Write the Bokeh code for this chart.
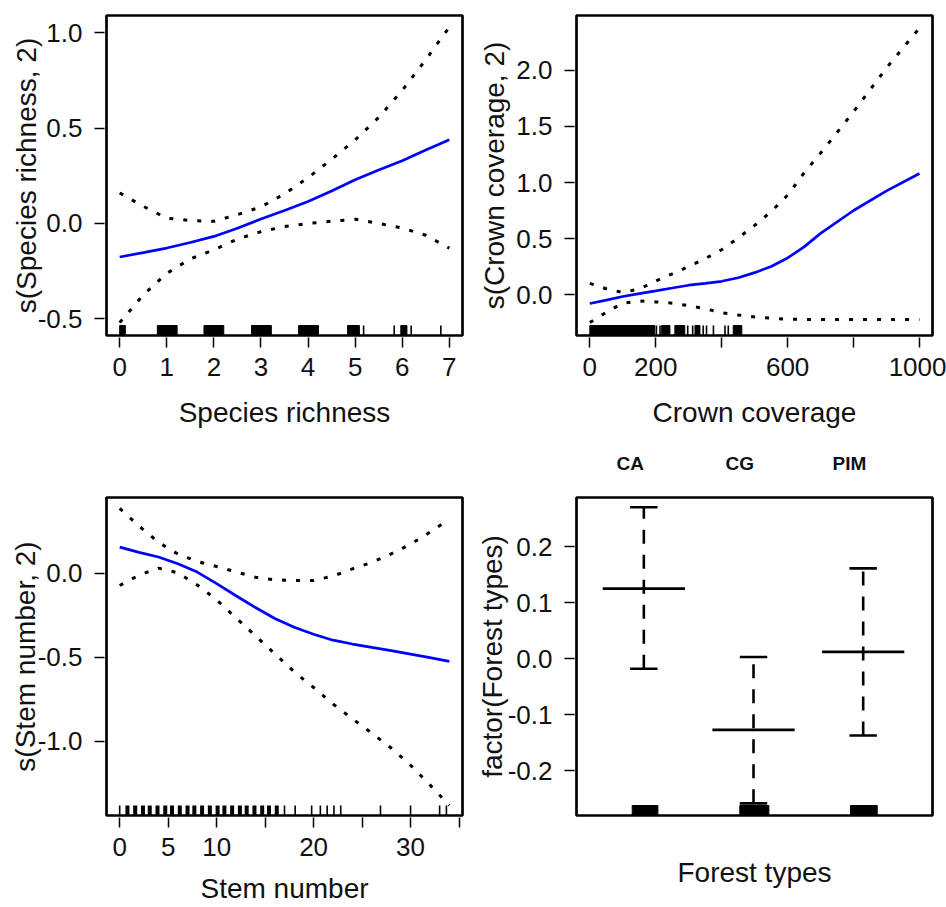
import math
from bokeh.plotting import figure
from bokeh.models import Range1d, FixedTicker, NumeralTickFormatter, LinearAxis
from bokeh.layouts import row, column
from bokeh.embed import file_html
from bokeh.resources import INLINE

FONT = "Liberation Sans"
INK = "#111111"

# ---------------- Panel 1: Species richness ----------------
sr_x = [0, 0.5, 1, 1.5, 2, 2.5, 3, 3.5, 4, 4.5, 5, 5.5, 6, 6.5, 7]
sr_fit = [-0.176, -0.153, -0.129, -0.100, -0.068, -0.025, 0.023, 0.068, 0.115, 0.170, 0.229, 0.280, 0.329, 0.385, 0.439]
sr_upper = [0.160, 0.090, 0.028, 0.015, 0.011, 0.046, 0.087, 0.155, 0.240, 0.336, 0.438, 0.556, 0.698, 0.859, 1.030]
sr_lower = [-0.520, -0.375, -0.262, -0.186, -0.138, -0.082, -0.043, -0.016, 0.000, 0.012, 0.022, 0.000, -0.024, -0.062, -0.130]
sr_rug_lo = [0.00, 0.80, 1.79, 2.80, 3.80, 4.84, 5.97]
sr_rug_hi = [0.12, 1.22, 2.21, 3.22, 4.22, 5.09, 6.10]
sr_rug_ticks = [5.18, 5.83, 6.19, 6.82]
sr_xticks = [0, 1, 2, 3, 4, 5, 6, 7]
sr_yticks = [-0.5, 0.0, 0.5, 1.0]

# ---------------- Panel 2: Crown coverage ----------------
cc_x = [0, 50, 100, 150, 200, 250, 300, 350, 400, 450, 500, 550, 600, 650, 700, 800, 900, 1000]
cc_fit = [-0.080, -0.050, -0.018, 0.008, 0.032, 0.058, 0.083, 0.100, 0.118, 0.150, 0.195, 0.250, 0.326, 0.425, 0.546, 0.750, 0.925, 1.080]
cc_upper = [0.100, 0.051, 0.018, 0.050, 0.120, 0.185, 0.250, 0.320, 0.400, 0.505, 0.617, 0.740, 0.887, 1.086, 1.262, 1.632, 2.023, 2.380]
cc_lower = [-0.250, -0.159, -0.077, -0.058, -0.066, -0.077, -0.100, -0.128, -0.162, -0.183, -0.200, -0.212, -0.220, -0.223, -0.223, -0.223, -0.223, -0.223]
cc_rug_lo = [0, 218, 258, 319, 435]
cc_rug_hi = [197, 243, 288, 334, 461]
cc_rug_ticks = [202, 213, 297, 312, 344, 354, 375, 410, 420]
cc_xticks_labelled = [0, 200, 600, 1000]
cc_xticks_unlabelled = [400, 800]
cc_yticks = [0.0, 0.5, 1.0, 1.5, 2.0]

# ---------------- Panel 3: Stem number ----------------
sn_x = [0, 2, 4, 6, 8, 10, 12, 14, 16, 18, 20, 22, 24, 26, 28, 30, 32, 34]
sn_fit = [0.155, 0.124, 0.096, 0.056, 0.007, -0.062, -0.134, -0.204, -0.269, -0.321, -0.363, -0.398, -0.421, -0.441, -0.460, -0.481, -0.502, -0.524]
sn_upper = [0.385, 0.280, 0.184, 0.114, 0.070, 0.040, 0.008, -0.024, -0.039, -0.043, -0.043, -0.017, 0.026, 0.064, 0.115, 0.172, 0.244, 0.320]
sn_lower = [-0.073, -0.011, 0.030, 0.002, -0.070, -0.158, -0.265, -0.372, -0.479, -0.586, -0.679, -0.777, -0.865, -0.950, -1.039, -1.141, -1.258, -1.380]
sn_rug_dense = [0.8, 1.6, 2.4, 3.1, 3.9, 4.7, 5.4, 6.2, 7.0, 7.7, 8.5, 9.3, 10.1, 10.8, 11.6, 12.4, 13.1, 13.9, 14.7, 15.4, 16.2]
sn_rug_sparse = [0.0, 17.0, 18.1, 19.8, 20.7, 21.4, 22.1, 22.8, 26.9, 30.0, 33.0, 33.7]
sn_xticks_labelled = [0, 5, 10, 20, 30]
sn_xticks_unlabelled = [15, 25, 35]
sn_yticks = [-1.0, -0.5, 0.0]

# ---------------- Panel 4: Forest types ----------------
ft_cats = ["CA", "CG", "PIM"]
ft_mean = [0.125, -0.127, 0.012]
ft_upper = [0.270, 0.003, 0.161]
ft_lower = [-0.018, -0.258, -0.137]
ft_rug_lo = [0.894, 1.875, 2.884]
ft_rug_hi = [1.128, 2.140, 3.128]
ft_yticks = [-0.2, -0.1, 0.0, 0.1, 0.2]

TICK_FS = "26px"
TITLE_FS = "28px"


def style_axis(ax):
    ax.axis_line_color = None
    ax.major_tick_in = -2
    ax.major_tick_out = 12
    ax.minor_tick_in = -2
    ax.minor_tick_out = 12
    ax.major_tick_line_width = 1.5
    ax.minor_tick_line_width = 1.5
    ax.major_tick_line_color = "black"
    ax.minor_tick_line_color = "black"
    ax.major_label_text_font = FONT
    ax.major_label_text_font_size = TICK_FS
    ax.major_label_text_color = INK
    ax.axis_label_text_font = FONT
    ax.axis_label_text_font_size = TITLE_FS
    ax.axis_label_text_font_style = "normal"
    ax.axis_label_text_color = INK


def base_fig(w, h, bl, br, bt, bb, xr, yr, xlabel, ylabel, x_std, y_std):
    p = figure(width=w, height=h, x_range=Range1d(*xr), y_range=Range1d(*yr),
               output_backend="svg", toolbar_location=None,
               min_border_left=bl, min_border_right=br,
               min_border_top=bt, min_border_bottom=bb)
    p.grid.visible = False
    p.outline_line_color = "black"
    p.outline_line_width = 2.7
    p.background_fill_color = "white"
    p.border_fill_color = "white"
    for ax in p.axis:
        style_axis(ax)
    p.yaxis.major_label_standoff = 12
    p.xaxis.major_label_standoff = 10
    p.yaxis.formatter = NumeralTickFormatter(format="0.0")
    p.xaxis.axis_label = xlabel
    p.yaxis.axis_label = ylabel
    p.xaxis.axis_label_standoff = x_std
    p.yaxis.axis_label_standoff = y_std
    return p


def smooth_panel(p, xs, fit, up, lo):
    p.line(xs, up, line_color="black", line_width=3, line_dash="4 10")
    p.line(xs, lo, line_color="black", line_width=3, line_dash="4 10")
    p.line(xs, fit, line_color="#0000ff", line_width=2.7)


def rug(p, yr, frame_h, ticks=(), lo=(), hi=(), dense=(), px=10):
    top = yr[0] + (yr[1] - yr[0]) * px / frame_h
    if len(lo):
        p.quad(left=list(lo), right=list(hi), bottom=yr[0], top=top,
               fill_color="black", line_color="black", line_width=1)
    if len(dense):
        p.segment(x0=list(dense), x1=list(dense), y0=yr[0], y1=top,
                  line_color="black", line_width=4)
    if len(ticks):
        p.segment(x0=list(ticks), x1=list(ticks), y0=yr[0], y1=top,
                  line_color="black", line_width=1.6)


TOP_H, BOT_H = 440, 467
TOP_FRAME = 320
BOT_FRAME = 318

# Panel 1
yr1 = (-0.5876, 1.0907)
p1 = base_fig(473, TOP_H, 106, 11, 15, 105, (-0.28, 7.28), yr1,
              "Species richness", "s(Species richness, 2)", 18, -7)
p1.xaxis.ticker = FixedTicker(ticks=sr_xticks)
p1.yaxis.ticker = FixedTicker(ticks=sr_yticks)
rug(p1, yr1, TOP_FRAME, ticks=sr_rug_ticks, lo=sr_rug_lo, hi=sr_rug_hi)
smooth_panel(p1, sr_x, sr_fit, sr_upper, sr_lower)

# Panel 2
yr2 = (-0.366, 2.491)
p2 = base_fig(473, TOP_H, 103, 14, 15, 105, (-40.4, 1039.5), yr2,
              "Crown coverage", "s(Crown coverage, 2)", 18, 3)
p2.xaxis.ticker = FixedTicker(ticks=cc_xticks_labelled, minor_ticks=cc_xticks_unlabelled)
p2.yaxis.ticker = FixedTicker(ticks=cc_yticks)
rug(p2, yr2, TOP_FRAME, ticks=cc_rug_ticks, lo=cc_rug_lo, hi=cc_rug_hi)
smooth_panel(p2, cc_x, cc_fit, cc_upper, cc_lower)

# Panel 3
yr3 = (-1.44, 0.45)
p3 = base_fig(473, BOT_H, 106, 11, 57, 92, (-1.36, 35.36), yr3,
              "Stem number", "s(Stem number, 2)", 14, -6)
p3.xaxis.ticker = FixedTicker(ticks=sn_xticks_labelled, minor_ticks=sn_xticks_unlabelled)
p3.yaxis.ticker = FixedTicker(ticks=sn_yticks)
rug(p3, yr3, BOT_FRAME, ticks=sn_rug_sparse, dense=sn_rug_dense)
smooth_panel(p3, sn_x, sn_fit, sn_upper, sn_lower)

# Panel 4
yr4 = (-0.2797, 0.2874)
p4 = base_fig(473, BOT_H, 103, 14, 57, 92, (0.386, 3.632), yr4,
              "Forest types", "factor(Forest types)", 41, -3)
p4.xaxis.ticker = FixedTicker(ticks=[])
p4.xaxis.major_tick_out = 0
p4.xaxis.major_tick_in = 0
p4.xaxis.major_label_standoff = 0
p4.yaxis.ticker = FixedTicker(ticks=ft_yticks)
pos = [i + 1 for i in range(len(ft_cats))]
rug(p4, yr4, BOT_FRAME, lo=ft_rug_lo, hi=ft_rug_hi)
p4.segment(x0=pos, x1=pos, y0=ft_lower, y1=ft_upper, line_color="black",
           line_width=2.6, line_dash="14 11")
p4.segment(x0=[c - 0.125 for c in pos], x1=[c + 0.125 for c in pos], y0=ft_upper, y1=ft_upper,
           line_color="black", line_width=2.7)
p4.segment(x0=[c - 0.125 for c in pos], x1=[c + 0.125 for c in pos], y0=ft_lower, y1=ft_lower,
           line_color="black", line_width=2.7)
p4.segment(x0=[c - 0.375 for c in pos], x1=[c + 0.375 for c in pos], y0=ft_mean, y1=ft_mean,
           line_color="black", line_width=2.7)

# category names above the panel
cat_ticks = [c - 0.125 for c in pos]
top_ax = LinearAxis(ticker=FixedTicker(ticks=cat_ticks),
                    major_label_overrides={t: n for t, n in zip(cat_ticks, ft_cats)})
top_ax.axis_line_color = None
top_ax.major_tick_line_color = None
top_ax.major_tick_out = 0
top_ax.major_tick_in = 0
top_ax.minor_tick_line_color = None
top_ax.major_label_text_font = FONT
top_ax.major_label_text_font_size = "19px"
top_ax.major_label_text_font_style = "bold"
top_ax.major_label_text_color = INK
top_ax.major_label_standoff = 24
p4.add_layout(top_ax, "above")

layout = column(row(p1, p2), row(p3, p4))
open("out.html", "w").write(file_html(layout, INLINE))
